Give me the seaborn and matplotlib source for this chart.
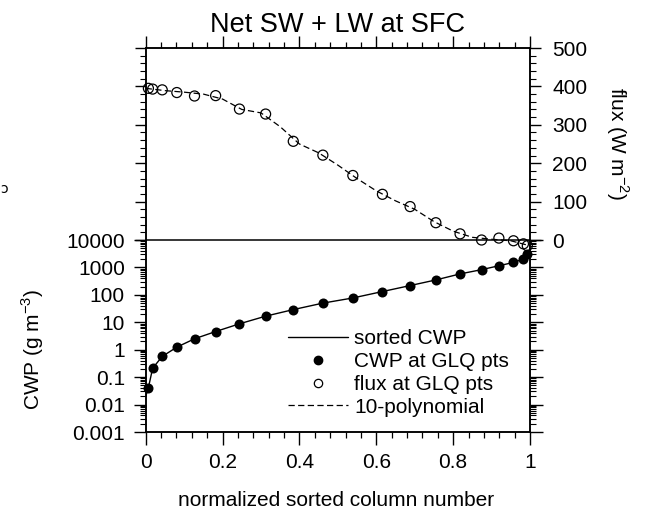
import numpy as np
import matplotlib
matplotlib.use('Agg')
import matplotlib.pyplot as plt
import seaborn as sns
from matplotlib.lines import Line2D
from matplotlib.ticker import FixedLocator, FuncFormatter, NullFormatter

# ---------------- data ----------------
x_glq = [0.007, 0.018, 0.043, 0.081, 0.127, 0.182, 0.244, 0.312, 0.384, 0.461,
         0.539, 0.616, 0.688, 0.755, 0.818, 0.874, 0.919, 0.957, 0.983, 0.993]
cwp_glq = [0.041, 0.21, 0.57, 1.24, 2.5, 4.6, 8.8, 16.7, 29, 50,
           77, 132, 218, 350, 580, 830, 1150, 1520, 2030, 3000]
flux_glq = [395, 393, 391, 384, 375, 376, 341, 328, 257, 221,
            168, 119, 87, 45, 16, 0, 5, -2, -10, -15]

cwp_line_x = [0.0, 0.007, 0.018, 0.043, 0.081, 0.127, 0.182, 0.244, 0.312, 0.384, 0.461,
              0.539, 0.616, 0.688, 0.755, 0.818, 0.874, 0.919, 0.957, 0.983, 0.993, 1.0]
cwp_line_y = [0.02, 0.041, 0.21, 0.57, 1.24, 2.5, 4.6, 8.8, 16.7, 29, 50,
              77, 132, 218, 350, 580, 830, 1150, 1520, 2030, 3000, 5000]

poly_x = [0.0, 0.05, 0.1, 0.15, 0.2, 0.25, 0.3, 0.35, 0.4, 0.45, 0.5,
          0.55, 0.6, 0.65, 0.7, 0.75, 0.8, 0.85, 0.9, 0.95, 1.0]
poly_y = [395, 389, 385, 380, 367, 340, 331, 295, 250, 227, 195,
          160, 128, 102, 80, 48, 23, 7, 2, -2, -15]

x_ticks = [0, 0.2, 0.4, 0.6, 0.8, 1.0]
x_ticklabels = ['0', '0.2', '0.4', '0.6', '0.8', '1']
cwp_ticks = [1e-3, 1e-2, 1e-1, 1, 10, 100, 1000, 10000]
cwp_ticklabels = ['0.001', '0.01', '0.1', '1', '10', '100', '1000', '10000']
flux_ticks = [0, 100, 200, 300, 400, 500]
flux_ticklabels = ['0', '100', '200', '300', '400', '500']

title = 'Net SW + LW at SFC'
xlabel = 'normalized sorted column number'
ylabel_left = 'CWP (g m$^{\\mathregular{-3}}$)'
ylabel_right = 'flux (W m$^{\\mathregular{-2}}$)'
legend_labels = ['sorted CWP', 'CWP at GLQ pts', 'flux at GLQ pts', '10-polynomial']

# ---------------- style ----------------
sns.set_style('ticks')
plt.rcParams['font.family'] = ['Liberation Sans', 'DejaVu Sans']
plt.rcParams['mathtext.fontset'] = 'custom'
plt.rcParams['mathtext.rm'] = 'Liberation Sans'
plt.rcParams['axes.linewidth'] = 1.1
for key in ['text.color', 'axes.labelcolor', 'xtick.color', 'ytick.color',
            'axes.edgecolor', 'xtick.labelcolor', 'ytick.labelcolor']:
    plt.rcParams[key] = 'black'

W, H = 647, 515
L, R, T, B = 145.7, 530.0, 48.0, 432.0
fig = plt.figure(figsize=(W / 100, H / 100), dpi=100)
ax = fig.add_axes([L / W, 1 - B / H, (R - L) / W, (B - T) / H])
ax2 = ax.twinx()

# lower half: log CWP, upper half: linear flux
ax.set_xlim(0, 1)
ax.set_yscale('log')
ax.set_ylim(1e-3, 1e11)
ax2.set_ylim(-500, 500)

sns.lineplot(x=cwp_line_x, y=cwp_line_y, ax=ax, color='k', lw=1.0, sort=False)
sns.scatterplot(x=x_glq, y=cwp_glq, ax=ax, color='k', s=52, linewidth=0, zorder=3)
for c in ax.collections:
    c.set_clip_on(False)

sns.lineplot(x=poly_x, y=poly_y, ax=ax2, color='k', lw=0.9, sort=False)
ax2.get_lines()[-1].set_linestyle((0, (5, 2.7)))
sns.scatterplot(x=x_glq, y=flux_glq, ax=ax2, s=52, zorder=4)
coll = ax2.collections[-1]
coll.set_facecolor('none')
coll.set_edgecolor('k')
coll.set_linewidth(0.9)
coll.set_clip_on(False)
ax2.axhline(0, color='k', lw=1.1)

# x axis ticks
ax.xaxis.set_major_locator(FixedLocator(x_ticks))
ax.xaxis.set_minor_locator(FixedLocator([i * 0.04 for i in range(26) if i % 5]))
ax.xaxis.set_major_formatter(FuncFormatter(lambda v, p: x_ticklabels[int(round(v * 5))]))
ax.tick_params(axis='x', which='both', bottom=True, top=True, labelbottom=True,
               labeltop=False, direction='out', labelsize=15, pad=6, colors='black')
ax.tick_params(axis='x', which='major', length=9, width=1.0)
ax.tick_params(axis='x', which='minor', length=4, width=0.9)

# log y (left labels)
ax.yaxis.set_major_locator(FixedLocator(cwp_ticks))
ax.yaxis.set_minor_locator(FixedLocator([k * 10.0 ** n for n in range(-3, 4) for k in range(2, 10)]))
lab_map = dict(zip([round(np.log10(t)) for t in cwp_ticks], cwp_ticklabels))
ax.yaxis.set_major_formatter(FuncFormatter(lambda v, p: lab_map.get(int(round(np.log10(v))), '')))
ax.yaxis.set_minor_formatter(NullFormatter())
ax.tick_params(axis='y', which='both', left=True, right=True, labelleft=True,
               labelright=False, direction='out', labelsize=15, pad=6, colors='black')
ax.tick_params(axis='y', which='major', length=9, width=1.0)
ax.tick_params(axis='y', which='minor', length=4, width=0.8)

# flux y (right labels)
ax2.yaxis.set_major_locator(FixedLocator(flux_ticks))
ax2.yaxis.set_minor_locator(FixedLocator([v for v in range(20, 500, 20) if v % 100]))
fl_map = dict(zip(flux_ticks, flux_ticklabels))
ax2.yaxis.set_major_formatter(FuncFormatter(lambda v, p: fl_map.get(int(round(v)), '')))
ax2.tick_params(axis='y', which='both', left=True, right=True, labelleft=False,
                labelright=True, direction='out', labelsize=15, pad=8, colors='black')
ax2.tick_params(axis='y', which='major', length=8, width=1.0)
ax2.tick_params(axis='y', which='minor', length=4, width=0.8)
for a in (ax, ax2):
    for s in a.spines.values():
        s.set_color('black')

ax.set_xlabel('')
ax.set_ylabel('')
ax2.set_ylabel('')

# texts
fig.text(338 / W, 1 - 32 / H, title, ha='center', va='baseline', fontsize=19.5, color='black')
fig.text(336.5 / W, 1 - 506 / H, xlabel, ha='center', va='baseline', fontsize=15, color='black')
fig.text(33 / W, 1 - 349 / H, ylabel_left, ha='center', va='center', rotation=90, fontsize=15, color='black')
fig.text(617 / W, 1 - 144 / H, ylabel_right, ha='center', va='center', rotation=-90, fontsize=15, color='black')
fig.text(0 / W, 1 - 189 / H, '\u0254', ha='left', va='center', fontsize=10, family='DejaVu Sans', color='black')

# legend
handles = [
    Line2D([], [], color='k', lw=1.0),
    Line2D([], [], ls='none', marker='o', color='k', ms=6),
    Line2D([], [], ls='none', marker='o', mfc='none', mec='k', mew=0.9, ms=6),
    Line2D([], [], color='k', lw=0.9, ls=(0, (5, 2.7))),
]
leg = ax2.legend(handles, legend_labels, loc='upper left',
                 bbox_to_anchor=(288.3 / W, 1 - 329.5 / H), bbox_transform=fig.transFigure,
                 frameon=False, fontsize=15, handlelength=60 / 20.8, handletextpad=0.28,
                 labelspacing=0.18, borderpad=0, borderaxespad=0)
for t in leg.get_texts():
    t.set_color('black')

fig.savefig('out.png', dpi=100)
